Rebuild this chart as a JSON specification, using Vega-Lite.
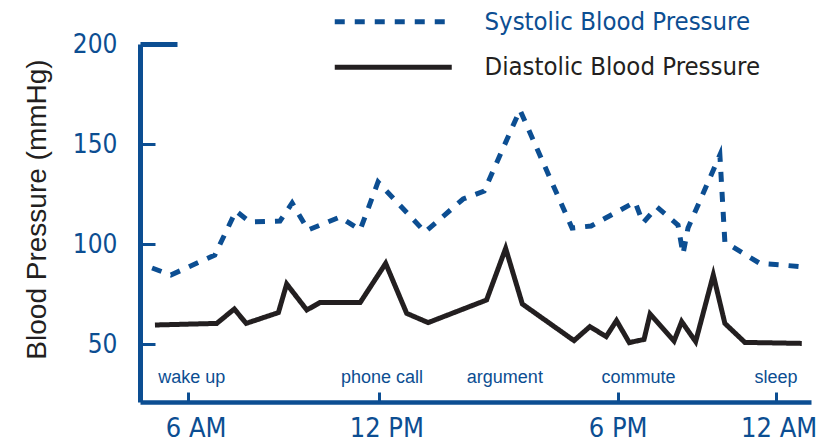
{
  "$schema": "https://vega.github.io/schema/vega-lite/v6.json",
  "width": 671,
  "height": 358,
  "autosize": {"type": "none"},
  "padding": {"left": 140, "top": 44, "right": 16, "bottom": 36},
  "background": "white",
  "config": {"view": {"stroke": null}, "axis": {"grid": false}},
  "datasets": {
    "bp": [
      {"hour": 4.88, "bp": 88, "series": "Systolic Blood Pressure"},
      {"hour": 5.47, "bp": 84.5, "series": "Systolic Blood Pressure"},
      {"hour": 6.85, "bp": 94.5, "series": "Systolic Blood Pressure"},
      {"hour": 7.51, "bp": 116.5, "series": "Systolic Blood Pressure"},
      {"hour": 7.95, "bp": 111, "series": "Systolic Blood Pressure"},
      {"hour": 8.89, "bp": 111.5, "series": "Systolic Blood Pressure"},
      {"hour": 9.27, "bp": 120.5, "series": "Systolic Blood Pressure"},
      {"hour": 9.77, "bp": 107, "series": "Systolic Blood Pressure"},
      {"hour": 10.77, "bp": 113.5, "series": "Systolic Blood Pressure"},
      {"hour": 11.40, "bp": 107, "series": "Systolic Blood Pressure"},
      {"hour": 11.96, "bp": 131, "series": "Systolic Blood Pressure"},
      {"hour": 13.15, "bp": 106, "series": "Systolic Blood Pressure"},
      {"hour": 14.11, "bp": 122.5, "series": "Systolic Blood Pressure"},
      {"hour": 14.64, "bp": 126.5, "series": "Systolic Blood Pressure"},
      {"hour": 15.54, "bp": 167, "series": "Systolic Blood Pressure"},
      {"hour": 16.85, "bp": 108, "series": "Systolic Blood Pressure"},
      {"hour": 17.33, "bp": 109, "series": "Systolic Blood Pressure"},
      {"hour": 17.88, "bp": 115, "series": "Systolic Blood Pressure"},
      {"hour": 18.66, "bp": 121, "series": "Systolic Blood Pressure"},
      {"hour": 18.96, "bp": 110.5, "series": "Systolic Blood Pressure"},
      {"hour": 19.49, "bp": 118.5, "series": "Systolic Blood Pressure"},
      {"hour": 20.29, "bp": 109.5, "series": "Systolic Blood Pressure"},
      {"hour": 20.48, "bp": 95, "series": "Systolic Blood Pressure"},
      {"hour": 20.67, "bp": 108, "series": "Systolic Blood Pressure"},
      {"hour": 21.88, "bp": 144.5, "series": "Systolic Blood Pressure"},
      {"hour": 22.07, "bp": 101, "series": "Systolic Blood Pressure"},
      {"hour": 23.40, "bp": 90.3, "series": "Systolic Blood Pressure"},
      {"hour": 24.24, "bp": 89.5, "series": "Systolic Blood Pressure"},
      {"hour": 25.04, "bp": 88.5, "series": "Systolic Blood Pressure"},
      {"hour": 4.97, "bp": 59.5, "series": "Diastolic Blood Pressure"},
      {"hour": 6.91, "bp": 60.3, "series": "Diastolic Blood Pressure"},
      {"hour": 7.46, "bp": 67.5, "series": "Diastolic Blood Pressure"},
      {"hour": 7.83, "bp": 60.3, "series": "Diastolic Blood Pressure"},
      {"hour": 8.84, "bp": 65.7, "series": "Diastolic Blood Pressure"},
      {"hour": 9.10, "bp": 80, "series": "Diastolic Blood Pressure"},
      {"hour": 9.73, "bp": 67, "series": "Diastolic Blood Pressure"},
      {"hour": 10.14, "bp": 70.7, "series": "Diastolic Blood Pressure"},
      {"hour": 11.40, "bp": 70.7, "series": "Diastolic Blood Pressure"},
      {"hour": 12.16, "bp": 90.3, "series": "Diastolic Blood Pressure"},
      {"hour": 12.69, "bp": 65.3, "series": "Diastolic Blood Pressure"},
      {"hour": 13.23, "bp": 60.7, "series": "Diastolic Blood Pressure"},
      {"hour": 14.70, "bp": 72, "series": "Diastolic Blood Pressure"},
      {"hour": 15.18, "bp": 97.8, "series": "Diastolic Blood Pressure"},
      {"hour": 15.60, "bp": 70, "series": "Diastolic Blood Pressure"},
      {"hour": 16.90, "bp": 51.7, "series": "Diastolic Blood Pressure"},
      {"hour": 17.30, "bp": 58.7, "series": "Diastolic Blood Pressure"},
      {"hour": 17.71, "bp": 53.7, "series": "Diastolic Blood Pressure"},
      {"hour": 17.97, "bp": 61.7, "series": "Diastolic Blood Pressure"},
      {"hour": 18.44, "bp": 50.7, "series": "Diastolic Blood Pressure"},
      {"hour": 19.00, "bp": 52.3, "series": "Diastolic Blood Pressure"},
      {"hour": 19.23, "bp": 65, "series": "Diastolic Blood Pressure"},
      {"hour": 20.14, "bp": 51.5, "series": "Diastolic Blood Pressure"},
      {"hour": 20.43, "bp": 61.2, "series": "Diastolic Blood Pressure"},
      {"hour": 20.96, "bp": 51.2, "series": "Diastolic Blood Pressure"},
      {"hour": 21.63, "bp": 84.5, "series": "Diastolic Blood Pressure"},
      {"hour": 22.07, "bp": 60.3, "series": "Diastolic Blood Pressure"},
      {"hour": 22.83, "bp": 50.8, "series": "Diastolic Blood Pressure"},
      {"hour": 24.99, "bp": 50.3, "series": "Diastolic Blood Pressure"}
    ],
    "events": [
      {"hour": 6.13, "label": "wake up"},
      {"hour": 12.07, "label": "phone call"},
      {"hour": 15.16, "label": "argument"},
      {"hour": 18.79, "label": "commute"},
      {"hour": 24.01, "label": "sleep"}
    ]
  },
  "layer": [
    {
      "data": {"name": "bp"},
      "mark": {"type": "line", "strokeWidth": 5, "strokeJoin": "miter", "strokeMiterLimit": 10, "strokeCap": "butt"},
      "encoding": {
        "x": {
          "field": "hour", "type": "quantitative",
          "scale": {"domain": [4.5, 6, 12, 18, 24, 25.34], "range": [0, 47.7, 239.3, 477.7, 635.7, 671], "nice": false, "zero": false},
          "axis": {
            "values": [6, 12, 18, 24],
            "labelExpr": "datum.value == 6 ? '6 AM' : datum.value == 12 ? '12 PM' : datum.value == 18 ? '6 PM' : '12 AM'",
            "title": null,
            "domainColor": "#0c4e92", "domainWidth": 4.5,
            "tickColor": "#0c4e92", "tickWidth": 3, "tickSize": -10,
            "labelColor": "#0c4e92", "labelFont": "DejaVu Sans Condensed, sans-serif",
            "labelFontSize": 27, "labelPadding": 23, "labelBaseline": "top", "labelFlush": false,
            "labelOffset": {"condition": [{"test": "datum.value === 6", "value": 8}, {"test": "datum.value === 12", "value": 7}, {"test": "datum.value === 24", "value": 3}], "value": 0}
          }
        },
        "y": {
          "field": "bp", "type": "quantitative",
          "scale": {"domain": [21, 200], "nice": false, "zero": false},
          "axis": {
            "values": [50, 100, 150, 200],
            "title": "Blood Pressure (mmHg)",
            "titleColor": "#231f20", "titleFont": "Liberation Sans", "titleFontSize": 28, "titleFontWeight": "normal",
            "titleAngle": 270, "titleX": -95, "titleY": 165, "titleAlign": "center", "titleBaseline": "alphabetic",
            "domainColor": "#0c4e92", "domainWidth": 5,
            "tickColor": "#0c4e92",
            "tickWidth": {"condition": {"test": "datum.value === 200", "value": 5}, "value": 3},
            "tickSize": {"condition": {"test": "datum.value === 200", "value": -37}, "value": -15},
            "labelColor": "#0c4e92", "labelFont": "DejaVu Sans Condensed, sans-serif", "labelFontSize": 26,
            "labelPadding": {"condition": {"test": "datum.value === 200", "value": 60}, "value": 38},
            "labelFlush": false
          }
        },
        "color": {
          "field": "series", "type": "nominal",
          "scale": {"domain": ["Systolic Blood Pressure", "Diastolic Blood Pressure"], "range": ["#0c4e92", "#231f20"]},
          "legend": {
            "title": null, "orient": "none", "legendX": 182, "legendY": -35,
            "symbolType": "M0,0H117", "symbolSize": 4, "symbolStrokeWidth": 5,
            "labelFont": "DejaVu Sans Condensed, sans-serif", "labelFontSize": 25.5,
            "labelOffset": 137, "labelLimit": 400, "rowPadding": 18.5, "padding": 0,
            "encode": {"labels": {"update": {"fill": {"signal": "datum.label === 'Systolic Blood Pressure' ? '#0c4e92' : '#231f20'"}}}}
          }
        },
        "strokeDash": {
          "field": "series", "type": "nominal",
          "scale": {"domain": ["Systolic Blood Pressure", "Diastolic Blood Pressure"], "range": [[10, 10], [1, 0]]},
          "legend": {
            "title": null, "orient": "none", "legendX": 182, "legendY": -35,
            "symbolType": "M0,0H117", "symbolSize": 4, "symbolStrokeWidth": 5,
            "labelFont": "DejaVu Sans Condensed, sans-serif", "labelFontSize": 25.5,
            "labelOffset": 137, "labelLimit": 400, "rowPadding": 18.5, "padding": 0,
            "encode": {"labels": {"update": {"fill": {"signal": "datum.label === 'Systolic Blood Pressure' ? '#0c4e92' : '#231f20'"}}}}
          }
        }
      }
    },
    {
      "data": {"name": "events"},
      "mark": {"type": "text", "color": "#0c4e92", "font": "Liberation Sans", "fontSize": 18, "align": "center", "baseline": "alphabetic"},
      "encoding": {
        "x": {"field": "hour", "type": "quantitative", "scale": {"domain": [4.5, 6, 12, 18, 24, 25.34], "range": [0, 47.7, 239.3, 477.7, 635.7, 671], "nice": false, "zero": false}},
        "y": {"datum": 30.5, "type": "quantitative", "scale": {"domain": [21, 200], "nice": false, "zero": false}},
        "text": {"field": "label"}
      }
    }
  ]
}
